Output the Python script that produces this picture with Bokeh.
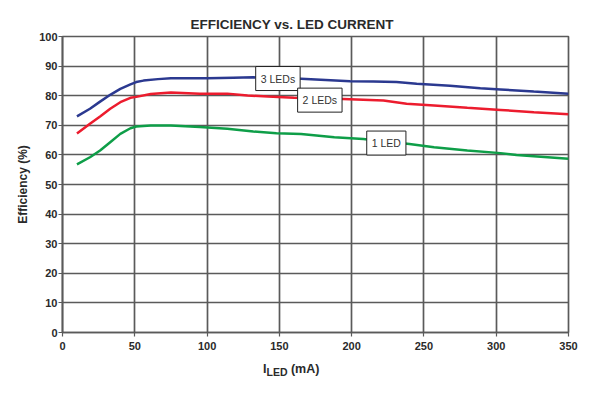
from bokeh.plotting import figure
from bokeh.models import Range1d, Label, FixedTicker, Div
from bokeh.layouts import column
from bokeh.embed import file_html
from bokeh.resources import INLINE

# ---- data ----
x_ticks = [0, 50, 100, 150, 200, 250, 300, 350]
y_ticks = [0, 10, 20, 30, 40, 50, 60, 70, 80, 90, 100]

i_3led = [10, 19, 26, 33, 40, 47, 51, 56, 66, 75, 100, 118, 132, 165, 199, 215, 231, 245, 268, 289, 303, 326, 350]
eff_3led = [73.0, 75.6, 78.0, 80.3, 82.3, 83.8, 84.6, 85.1, 85.6, 85.9, 85.9, 86.1, 86.2, 85.7, 84.9, 84.8, 84.6, 84.0, 83.4, 82.5, 82.1, 81.4, 80.7]

i_2led = [10, 19, 26, 33, 40, 47, 51, 61, 75, 95, 114, 128, 142, 160, 194, 222, 238, 257, 280, 303, 326, 350]
eff_2led = [67.2, 70.5, 73.0, 75.6, 77.8, 79.3, 79.6, 80.6, 81.1, 80.7, 80.7, 80.1, 79.7, 79.3, 78.9, 78.4, 77.3, 76.7, 75.9, 75.2, 74.4, 73.7]

i_1led = [10, 19, 26, 33, 40, 47, 51, 61, 75, 95, 114, 132, 148, 165, 188, 208, 240, 257, 280, 303, 314, 350]
eff_1led = [56.8, 59.2, 61.5, 64.3, 67.1, 69.0, 69.6, 69.9, 69.9, 69.4, 68.8, 67.9, 67.3, 67.1, 66.0, 65.4, 63.7, 62.6, 61.5, 60.6, 60.0, 58.7]

series_names = ["3 LEDs", "2 LEDs", "1 LED"]
label_pos = [(149, 85.8), (178, 78.5), (224, 64.0)]

title_text = "EFFICIENCY vs. LED CURRENT"
y_title = "Efficiency (%)"
x_title_main = "I"
x_title_sub = "LED"
x_title_unit = "(mA)"

BLUE = "#2b3990"
RED = "#ec1c2e"
GREEN = "#0e9e48"
GRID = "#5a5a5a"
TXT = "#2a2a2a"
FONT = "Liberation Sans"

p = figure(width=584, height=356, output_backend="svg", toolbar_location=None,
           x_range=Range1d(0, 350), y_range=Range1d(0, 100),
           min_border_left=62, min_border_right=16, min_border_top=36, min_border_bottom=24)
p.background_fill_color = "white"
p.border_fill_color = "white"
p.outline_line_color = GRID
p.outline_line_width = 1.7

p.title.text = title_text
p.title.align = "left"
p.title.offset = 128
p.title.standoff = 9
p.title.text_font = FONT
p.title.text_font_style = "bold"
p.title.text_font_size = "13.5px"
p.title.text_color = TXT

for ax, ticks in ((p.xaxis, x_ticks), (p.yaxis, y_ticks)):
    ax.ticker = FixedTicker(ticks=ticks)
    ax.axis_line_color = GRID
    ax.axis_line_width = 1.7
    ax.major_tick_line_color = GRID
    ax.major_tick_line_width = 1.2
    ax.major_tick_in = 0
    ax.major_tick_out = 4
    ax.minor_tick_line_color = None
    ax.major_label_text_font = FONT
    ax.major_label_text_font_style = "bold"
    ax.major_label_text_font_size = "11px"
    ax.major_label_text_color = TXT
p.xaxis.major_label_standoff = 5
p.yaxis.major_label_standoff = 1

p.yaxis.axis_label = y_title
p.yaxis.axis_label_text_font = FONT
p.yaxis.axis_label_text_font_style = "bold"
p.yaxis.axis_label_text_font_size = "12px"
p.yaxis.axis_label_text_color = TXT
p.yaxis.axis_label_standoff = 6

p.xgrid.ticker = FixedTicker(ticks=x_ticks)
p.ygrid.ticker = FixedTicker(ticks=y_ticks)
for g in (p.xgrid, p.ygrid):
    g.grid_line_color = GRID
    g.grid_line_width = 1.7

p.line(i_3led, eff_3led, line_color=BLUE, line_width=2.5)
p.line(i_2led, eff_2led, line_color=RED, line_width=2.5)
p.line(i_1led, eff_1led, line_color=GREEN, line_width=2.5)

for name, (lx, ly) in zip(series_names, label_pos):
    p.add_layout(Label(x=lx, y=ly, text=name, text_align="center", text_baseline="middle",
                       text_font=FONT, text_font_size="10.5px", text_color="#333333",
                       background_fill_color="white", border_line_color="#222222",
                       border_line_width=1, padding=(5, 6)))

# x-axis title with a real subscript (I_LED (mA)) as HTML text below the chart
x_title_html = (
    f"<div style=\"padding-left:263px; padding-top:6px; font-family:'{FONT}'; font-weight:bold; "
    f"font-size:12.5px; line-height:14px; color:{TXT}; white-space:nowrap;\">"
    f"{x_title_main}<span style=\"font-size:10.5px; position:relative; top:3px;\">{x_title_sub}</span>"
    f" {x_title_unit}</div>"
)
d = Div(text=x_title_html, width=584, height=28, margin=0)

layout = column(p, d, spacing=0)
open("out.html", "w").write(file_html(layout, INLINE))
